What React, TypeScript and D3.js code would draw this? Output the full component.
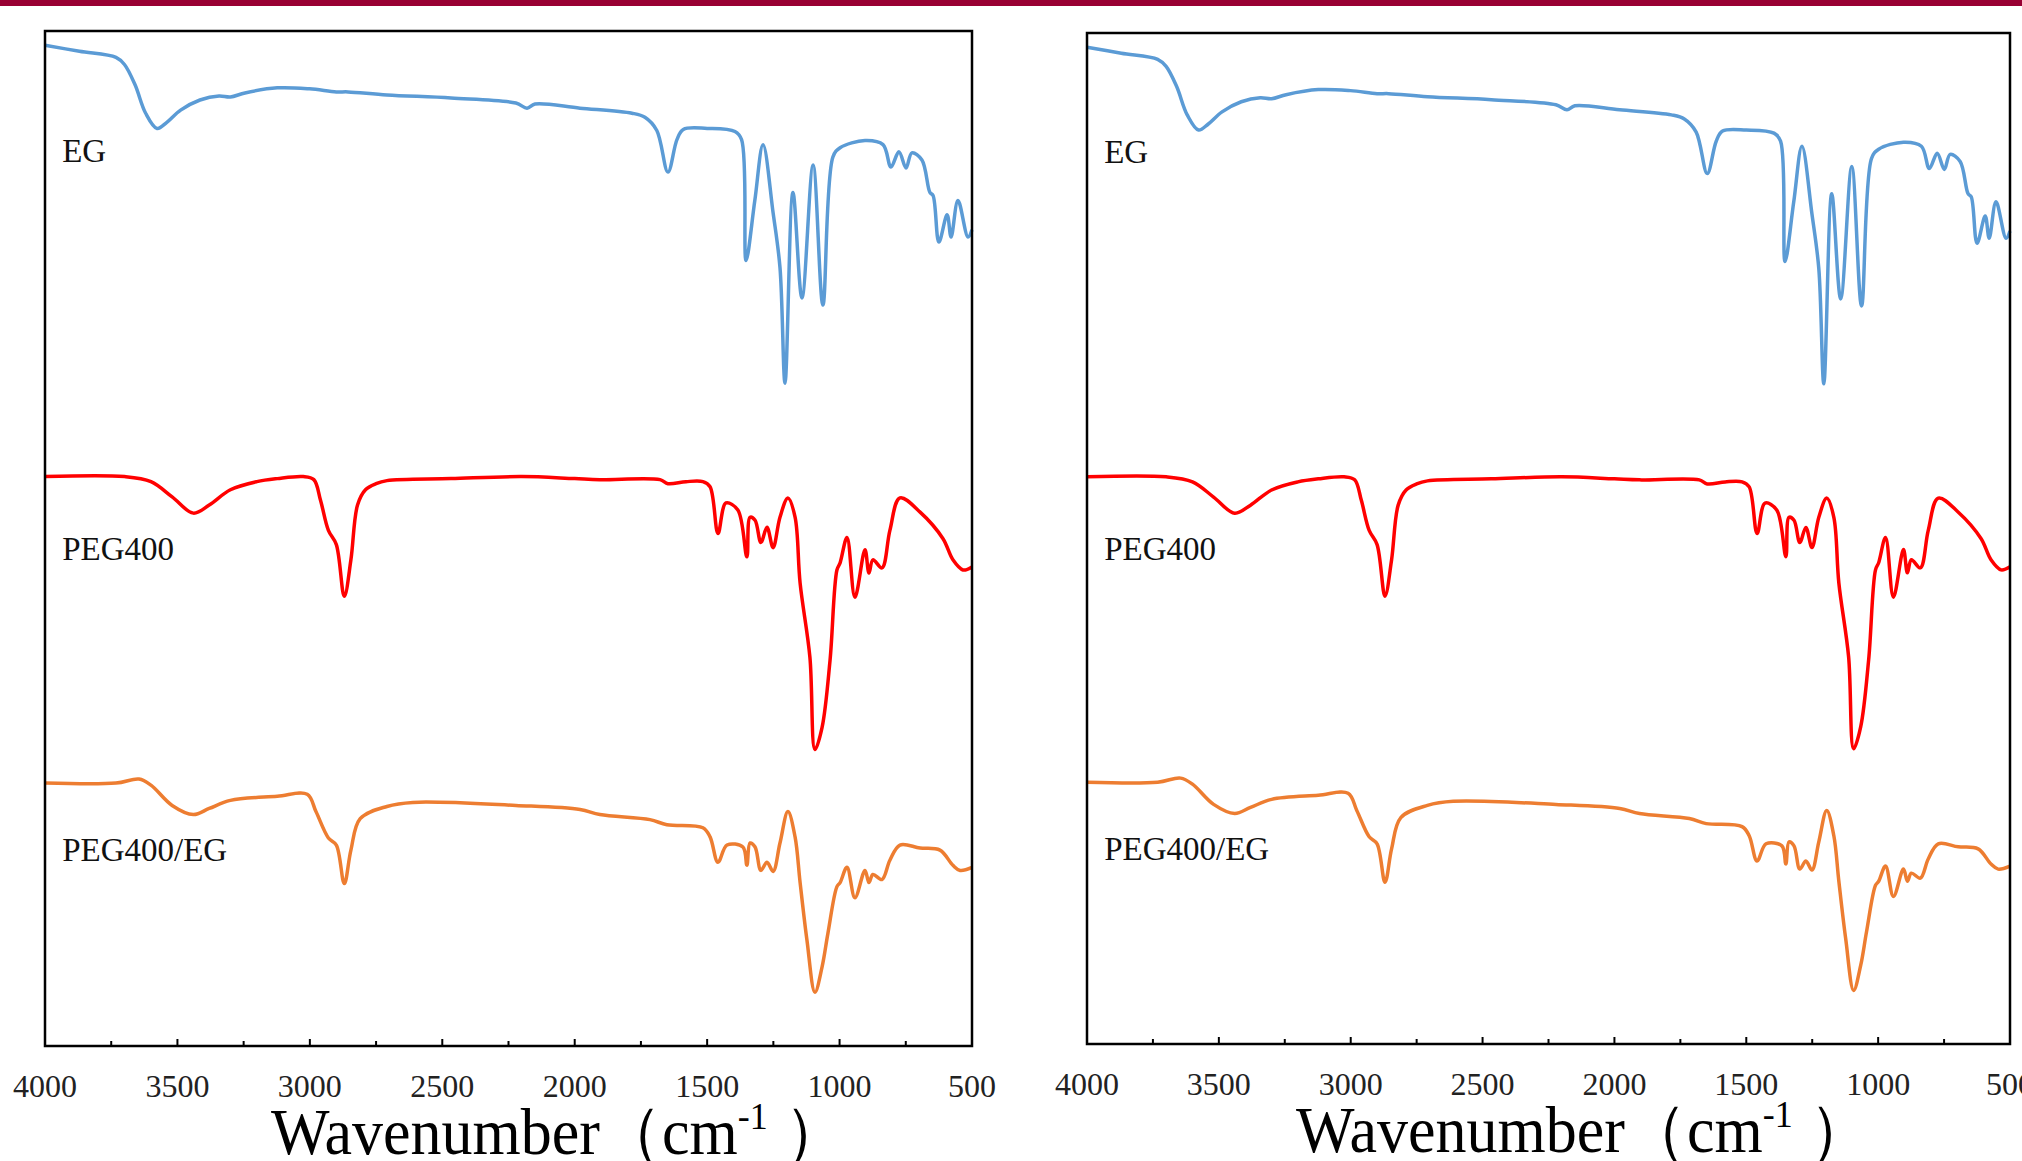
import React, { useRef, useEffect } from 'react';
import * as d3 from 'd3';

// FTIR spectra, [wavenumber cm-1, transmittance (a.u., 0-100 of the frame)]
const egSpectrum: [number, number][] = [
  [4000, 98.6], [3870, 98.0], [3732, 97.4], [3700, 96.7], [3660, 94.7], [3620, 91.9],
  [3577, 90.4], [3540, 91.0], [3488, 92.2], [3415, 93.2], [3343, 93.6], [3300, 93.5],
  [3245, 93.9], [3123, 94.4], [3001, 94.3], [2900, 94.0], [2856, 94.0], [2709, 93.7],
  [2467, 93.4], [2222, 92.9], [2180, 92.4], [2150, 92.8], [1980, 92.4], [1784, 91.9],
  [1735, 91.5], [1690, 90.2], [1648, 86.1], [1614, 89.3], [1590, 90.3], [1500, 90.4],
  [1395, 90.1], [1370, 89.3], [1353, 77.4], [1320, 83.3], [1289, 88.8], [1251, 82.1],
  [1225, 76.7], [1206, 65.3], [1176, 84.1], [1142, 73.7], [1100, 86.8], [1063, 73.0],
  [1025, 87.6], [998, 88.5], [904, 89.2], [836, 88.8], [806, 86.6], [776, 88.1],
  [749, 86.5], [727, 88.0], [689, 87.3], [659, 84.1], [647, 83.8], [625, 79.2],
  [594, 81.9], [579, 79.7], [553, 83.3], [515, 79.7], [500, 80.4],
];

const pegSpectrum: [number, number][] = [
  [4000, 56.1], [3700, 56.1], [3600, 55.6], [3520, 54.1], [3440, 52.5], [3380, 53.3],
  [3300, 54.8], [3200, 55.6], [3123, 55.9], [3025, 56.1], [2985, 55.8], [2960, 53.8],
  [2930, 50.8], [2900, 49.4], [2870, 44.3], [2845, 47.9], [2820, 53.3], [2790, 54.8],
  [2750, 55.4], [2709, 55.7], [2467, 55.9], [2200, 56.1], [2000, 55.9], [1905, 55.8],
  [1678, 55.8], [1648, 55.4], [1580, 55.6], [1516, 55.6], [1489, 55.1], [1459, 50.5],
  [1429, 53.5], [1384, 52.8], [1350, 48.2], [1338, 52.1], [1319, 51.8], [1297, 49.6],
  [1274, 51.1], [1251, 49.1], [1225, 52.1], [1195, 54.0], [1168, 52.1], [1149, 45.6],
  [1112, 38.3], [1093, 29.2], [1066, 31.4], [1036, 38.0], [1010, 46.9], [998, 47.6],
  [972, 50.1], [942, 44.2], [904, 48.9], [889, 46.6], [874, 47.9], [840, 47.1],
  [810, 50.8], [772, 54.0], [696, 52.6], [610, 50.0], [572, 47.9], [534, 46.9], [500, 47.2],
];

const blendSpectrum: [number, number][] = [
  [4000, 25.9], [3732, 25.9], [3645, 26.3], [3600, 25.7], [3520, 23.7], [3440, 22.8],
  [3380, 23.4], [3300, 24.2], [3123, 24.6], [3010, 24.8], [2977, 23.1], [2930, 20.5],
  [2900, 19.8], [2870, 16.0], [2845, 19.3], [2810, 22.4], [2709, 23.6], [2611, 24.0],
  [2222, 23.7], [1980, 23.3], [1905, 22.8], [1716, 22.3], [1652, 21.8], [1516, 21.5],
  [1489, 20.6], [1459, 18.1], [1425, 19.8], [1365, 19.6], [1350, 17.8], [1338, 20.0],
  [1319, 19.6], [1297, 17.3], [1274, 18.1], [1251, 17.2], [1225, 20.0], [1195, 23.1],
  [1168, 20.6], [1149, 16.1], [1123, 10.4], [1093, 5.3], [1066, 7.8], [1044, 11.1],
  [1010, 15.7], [998, 16.1], [972, 17.6], [942, 14.6], [904, 17.3], [889, 16.1],
  [874, 16.9], [840, 16.4], [810, 18.3], [772, 19.8], [696, 19.5], [621, 19.3],
  [572, 17.8], [545, 17.3], [500, 17.6],
];

const seriesNames = ['EG', 'PEG400', 'PEG400/EG'];
const seriesColors = ['#5b9bd5', '#ff0000', '#ed7d31'];
const seriesLabelValues = [87.1, 47.9, 18.2];

const xMajorTicks = [4000, 3500, 3000, 2500, 2000, 1500, 1000, 500];
const xMinorTicks = [3750, 3250, 2750, 2250, 1750, 1250, 750];

// two copies of the same figure side by side
const panels = [
  { left: 45, top: 31, right: 972, bottom: 1046, titleX: 271 },
  { left: 1087, top: 33, right: 2010, bottom: 1044, titleX: 1296 },
];

const W = 2022;
const H = 1161;
const serif = '"Liberation Serif", "Times New Roman", serif';

const App = () => {
  const svgRef = useRef<SVGSVGElement>(null);

  useEffect(() => {
    const svg = d3.select(svgRef.current);
    svg.selectAll('*').remove();

    svg.append('rect')
      .attr('x', 0).attr('y', 0)
      .attr('width', W).attr('height', 6)
      .attr('fill', '#990033');

    const spectra = [egSpectrum, pegSpectrum, blendSpectrum];

    panels.forEach((p) => {
      const g = svg.append('g');

      const x = d3.scaleLinear().domain([4000, 500]).range([p.left, p.right]);
      const y = d3.scaleLinear().domain([0, 100]).range([p.bottom, p.top]);

      const line = d3.line<[number, number]>()
        .x(d => x(d[0]))
        .y(d => y(d[1]))
        .curve(d3.curveCatmullRom.alpha(0.5));

      spectra.forEach((s, i) => {
        g.append('path')
          .datum(s)
          .attr('d', line)
          .attr('fill', 'none')
          .attr('stroke', seriesColors[i])
          .attr('stroke-width', 3.5)
          .attr('stroke-linejoin', 'round');
      });

      g.append('rect')
        .attr('x', p.left).attr('y', p.top)
        .attr('width', p.right - p.left).attr('height', p.bottom - p.top)
        .attr('fill', 'none')
        .attr('stroke', '#000')
        .attr('stroke-width', 2.5);

      g.selectAll('.major')
        .data(xMajorTicks)
        .enter()
        .append('line')
        .attr('x1', d => x(d)).attr('x2', d => x(d))
        .attr('y1', p.bottom).attr('y2', p.bottom - 7)
        .attr('stroke', '#000').attr('stroke-width', 2);

      g.selectAll('.minor')
        .data(xMinorTicks)
        .enter()
        .append('line')
        .attr('x1', d => x(d)).attr('x2', d => x(d))
        .attr('y1', p.bottom).attr('y2', p.bottom - 5)
        .attr('stroke', '#000').attr('stroke-width', 2);

      g.selectAll('.ticklabel')
        .data(xMajorTicks)
        .enter()
        .append('text')
        .attr('x', d => x(d))
        .attr('y', p.bottom + 51)
        .attr('text-anchor', 'middle')
        .attr('font-family', serif)
        .attr('font-size', 32)
        .attr('fill', '#222')
        .text(d => d);

      seriesNames.forEach((name, i) => {
        g.append('text')
          .attr('x', x(3935))
          .attr('y', y(seriesLabelValues[i]))
          .attr('font-family', serif)
          .attr('font-size', 33)
          .attr('fill', '#111')
          .text(name);
      });

      const title = g.append('text')
        .attr('transform', `translate(${p.titleX},${p.bottom + 108}) scale(1,1.06)`)
        .attr('font-family', serif)
        .attr('font-size', 62)
        .attr('fill', '#000');
      title.append('tspan').text('Wavenumber（cm');
      title.append('tspan').attr('font-size', 36).attr('dy', -24).text('-1');
      title.append('tspan').attr('dy', 24).attr('dx', 16).text('）');
    });
  }, []);

  return (
    <svg
      ref={svgRef}
      width={W}
      height={H}
      style={{ position: 'absolute', left: 0, top: 0, background: '#fff' }}
    />
  );
};

export default App;
